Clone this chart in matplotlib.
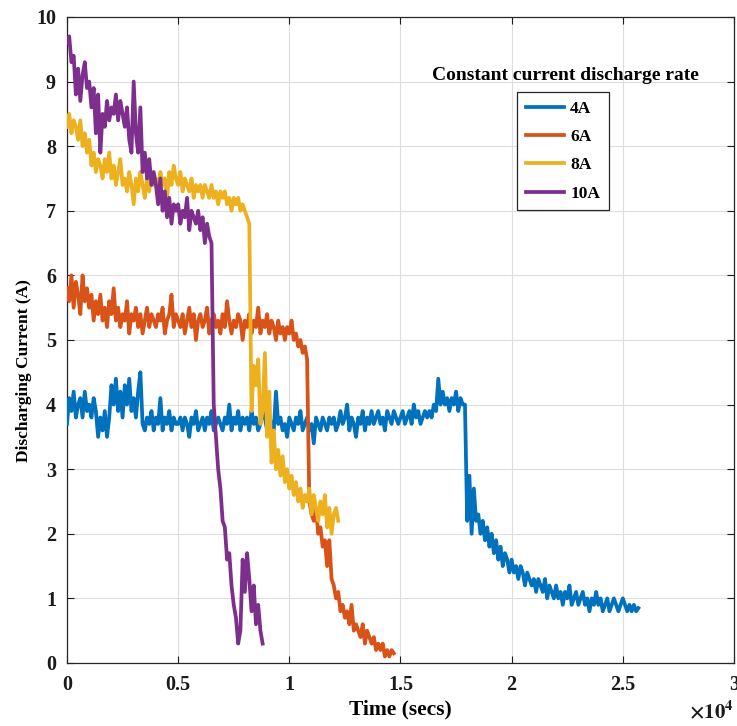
import matplotlib
matplotlib.use("Agg")
import matplotlib.pyplot as plt
import numpy as np
from matplotlib.ticker import FuncFormatter

plt.rcParams["font.family"] = ["Liberation Serif", "DejaVu Serif"]
plt.rcParams["font.weight"] = "bold"
plt.rcParams["mathtext.fontset"] = "stix"

# sampling interval of the logged current (seconds)
dt = 100

current_4a = [
    3.7, 4.1, 3.9, 4.2, 3.8, 4.0, 4.1, 3.8, 4.2, 3.9,
    4.0, 3.8, 4.1, 3.9, 3.5, 3.8, 3.6, 3.9, 3.5, 3.8,
    4.3, 4.0, 4.4, 3.9, 4.2, 3.8, 4.3, 4.0, 4.4, 3.9,
    4.1, 3.8, 4.2, 4.5, 3.7, 3.6, 3.8, 3.7, 3.9, 3.6,
    3.8, 3.7, 4.1, 3.6, 3.8, 3.7, 3.9, 3.6, 3.8, 3.7,
    3.7, 3.8, 3.6, 3.8, 3.7, 3.5, 3.8, 3.7, 3.9, 3.6,
    3.7, 3.8, 3.6, 3.8, 3.7, 3.9, 3.6, 3.7, 3.8, 3.7,
    3.6, 3.8, 3.7, 4.0, 3.6, 3.8, 3.7, 3.9, 3.6, 3.8,
    3.7, 3.8, 3.6, 3.9, 3.7, 3.8, 3.6, 3.7, 3.9, 3.8,
    3.6, 3.8, 3.7, 3.6, 4.2, 3.7, 3.8, 3.6, 3.7, 3.5,
    3.8, 3.7, 3.6, 3.8, 3.7, 3.9, 3.6, 3.7, 3.8, 3.6,
    3.7, 3.4, 3.8, 3.7, 3.6, 3.8, 3.7, 3.6, 3.8, 3.7,
    3.8, 3.6, 3.7, 3.9, 3.7, 3.8, 4.0, 3.6, 3.8, 3.7,
    3.5, 3.8, 3.7, 3.9, 3.6, 3.8, 3.7, 3.9, 3.7, 3.8,
    3.9, 3.7, 3.8, 3.6, 3.9, 3.8, 3.7, 3.9, 3.8, 3.7,
    3.8, 3.9, 3.7, 3.8, 3.9, 3.7, 4.0, 3.8, 3.9, 3.7,
    3.8, 3.9, 3.8, 3.9, 3.8, 4.0, 3.9, 4.4, 4.0, 4.2,
    4.0, 4.1, 3.9, 4.1, 4.0, 4.2, 3.9, 4.1, 4.0, 4.0,
    2.2, 2.9, 2.0, 2.7, 2.2, 2.3, 2.0, 2.2, 1.9, 2.1,
    1.8, 2.0, 1.7, 1.9, 1.6, 1.8, 1.5, 1.7, 1.6, 1.4,
    1.6, 1.4, 1.5, 1.3, 1.5, 1.4, 1.2, 1.4, 1.3, 1.2,
    1.3, 1.1, 1.3, 1.2, 1.1, 1.3, 1.0, 1.2, 1.1, 1.0,
    1.2, 1.0, 1.1, 0.9, 1.1, 1.0, 1.2, 0.9, 1.0, 1.1,
    0.9, 1.0, 1.1, 0.9, 1.0, 0.8, 1.0, 0.9, 1.1, 0.9,
    1.0, 0.8, 0.9, 1.0, 0.8, 0.9, 1.0, 0.9, 0.8, 0.9,
    1.0, 0.9, 0.8, 0.9, 0.8, 0.9, 0.8, 0.85,
]

current_6a = [
    5.8, 5.6, 6.0, 5.5, 5.9, 5.7, 5.4, 6.0, 5.6, 5.8,
    5.5, 5.7, 5.3, 5.6, 5.4, 5.7, 5.3, 5.5, 5.2, 5.6,
    5.4, 5.8, 5.3, 5.5, 5.2, 5.4, 5.3, 5.6, 5.1, 5.4,
    5.3, 5.5, 5.2, 5.4, 5.1, 5.3, 5.5, 5.2, 5.4, 5.3,
    5.2, 5.4, 5.3, 5.5, 5.1, 5.3, 5.4, 5.7, 5.2, 5.4,
    5.3, 5.2, 5.4, 5.1, 5.3, 5.5, 5.2, 5.4, 5.0, 5.3,
    5.4, 5.2, 5.3, 5.5, 5.1, 5.3, 5.4, 5.2, 5.3, 5.1,
    5.4, 5.2, 5.6, 5.3, 5.1, 5.3, 5.2, 5.4, 5.3, 5.0,
    5.3, 5.2, 5.4, 5.1, 5.3, 5.2, 5.5, 5.1, 5.3, 5.2,
    5.4, 5.1, 5.3, 5.2, 5.0, 5.3, 5.1, 5.2, 5.0, 5.2,
    5.1, 5.3, 5.0, 5.1, 4.9, 5.0, 4.8, 4.9, 4.7, 2.5,
    2.3, 2.2, 2.4, 2.0, 2.1, 1.8, 1.9, 1.5, 1.9, 1.3,
    1.2, 1.0, 1.1, 0.8, 0.9, 0.7, 0.8, 0.6, 0.9, 0.5,
    0.6, 0.5, 0.4, 0.6, 0.3, 0.5, 0.4, 0.3, 0.4, 0.2,
    0.3, 0.2, 0.3, 0.1, 0.2, 0.1, 0.2, 0.15,
]

current_8a = [
    8.3, 8.5, 8.2, 8.4, 8.3, 8.1, 8.4, 8.0, 8.2, 7.9,
    8.1, 7.7, 7.9, 7.6, 7.8, 7.7, 7.5, 7.8, 7.6, 7.9,
    7.5, 7.7, 7.4, 7.6, 7.8, 7.4, 7.5, 7.3, 7.6, 7.4,
    7.1, 7.5, 7.3, 7.6, 7.4, 7.2, 7.5, 7.3, 7.6, 7.4,
    7.5, 7.3, 7.6, 7.4, 7.5, 7.2, 7.6, 7.4, 7.7, 7.5,
    7.4, 7.6, 7.3, 7.5, 7.4, 7.3, 7.5, 7.2, 7.4, 7.3,
    7.4, 7.2, 7.4, 7.3, 7.2, 7.4, 7.2, 7.3, 7.1, 7.3,
    7.2, 7.3, 7.1, 7.2, 7.0, 7.2, 7.1, 7.2, 7.0, 7.1,
    7.0, 6.9, 6.8, 3.9, 4.6, 4.3, 4.7, 3.7, 3.9, 4.8,
    3.5, 4.2, 3.1, 3.6, 3.0, 3.3, 2.9, 3.2, 2.8, 3.0,
    2.7, 2.9, 2.6, 2.8, 2.5, 2.7, 2.4, 2.6, 2.5, 2.7,
    2.3, 2.6, 2.4, 2.2, 2.5, 2.3, 2.6, 2.1, 2.4, 2.0,
    2.3, 2.4, 2.2,
]

current_10a = [
    9.6, 9.7, 9.3, 9.4, 8.8, 9.2, 8.7, 9.1, 9.3, 8.9,
    9.0, 8.6, 8.9, 8.2, 8.8, 7.9, 8.5, 8.3, 8.7, 8.4,
    8.6, 8.5, 8.8, 8.4, 8.7, 8.5, 8.3, 8.6, 8.1, 7.9,
    9.0, 8.2, 7.9, 8.6, 7.6, 7.9, 7.5, 7.8, 7.4, 7.6,
    7.4, 7.1, 7.5, 7.0, 7.3, 6.9, 7.2, 6.8, 7.1, 7.0,
    7.1, 6.8, 7.0, 6.9, 7.2, 6.7, 7.0, 6.9, 6.8, 7.0,
    6.7, 6.9, 6.5, 6.8, 6.6, 6.5, 4.0, 3.5, 3.0, 2.7,
    2.2, 2.1, 1.6, 1.7, 1.2, 0.9, 0.7, 0.3, 0.5, 1.6,
    1.1, 1.7, 1.3, 0.8, 1.2, 0.6, 0.9, 0.5, 0.3,
]

series = [
    ("4A", current_4a, "#0072BD"),
    ("6A", current_6a, "#D95319"),
    ("8A", current_8a, "#EDB120"),
    ("10A", current_10a, "#7E2F8E"),
]

fig = plt.figure(figsize=(7.37, 7.26), dpi=100)
ax = fig.add_axes([0.0909, 0.0868, 0.905, 0.8898])

handles = []
for label, values, color in series:
    t = np.arange(len(values)) * dt
    (line,) = ax.plot(t, values, color=color, linewidth=2.7, label=label, zorder=3)
    handles.append(line)

ax.set_xlim(0, 30000)
ax.set_ylim(0, 10)
ax.set_xticks(np.arange(0, 30001, 5000))
ax.set_yticks(np.arange(0, 11, 1))
ax.xaxis.set_major_formatter(FuncFormatter(lambda v, p: f"{v / 1e4:g}"))

ax.grid(True, color="#dedede", linewidth=0.8)
ax.set_axisbelow(True)
ax.tick_params(direction="in", top=True, right=True, length=5, width=0.8,
               labelsize=14.5, colors="#1a1a1a")
ax.tick_params(axis="x", pad=9)
ax.tick_params(axis="y", pad=8)
for lbl in ax.get_xticklabels() + ax.get_yticklabels():
    lbl.set_fontweight("bold")
for spine in ax.spines.values():
    spine.set_edgecolor("#262626")
    spine.set_linewidth(0.9)

ax.set_xlabel("Time (secs)", fontsize=15.5, fontweight="bold", labelpad=3)
ax.set_ylabel("Discharging Current (A)", fontsize=12.5, fontweight="bold")
ax.yaxis.set_label_coords(-0.052, 0.453)
ax.text(1.0, -0.075, r"$\times\mathbf{10^{4}}$", transform=ax.transAxes,
        ha="right", va="center", fontsize=15, color="#1a1a1a")

ax.text(0.748, 0.910, "Constant current discharge rate", transform=ax.transAxes,
        ha="center", va="center", fontsize=14, fontweight="bold")
leg = ax.legend(handles=handles, loc="upper left", bbox_to_anchor=(0.675, 0.884),
                frameon=True, fancybox=False, edgecolor="#262626", framealpha=1,
                prop={"size": 12.5, "weight": "bold"}, handlelength=2.2,
                borderpad=0.5, labelspacing=0.7, handletextpad=0.35,
                borderaxespad=0)
leg.get_frame().set_linewidth(0.9)

fig.savefig("out.png", dpi=100)
